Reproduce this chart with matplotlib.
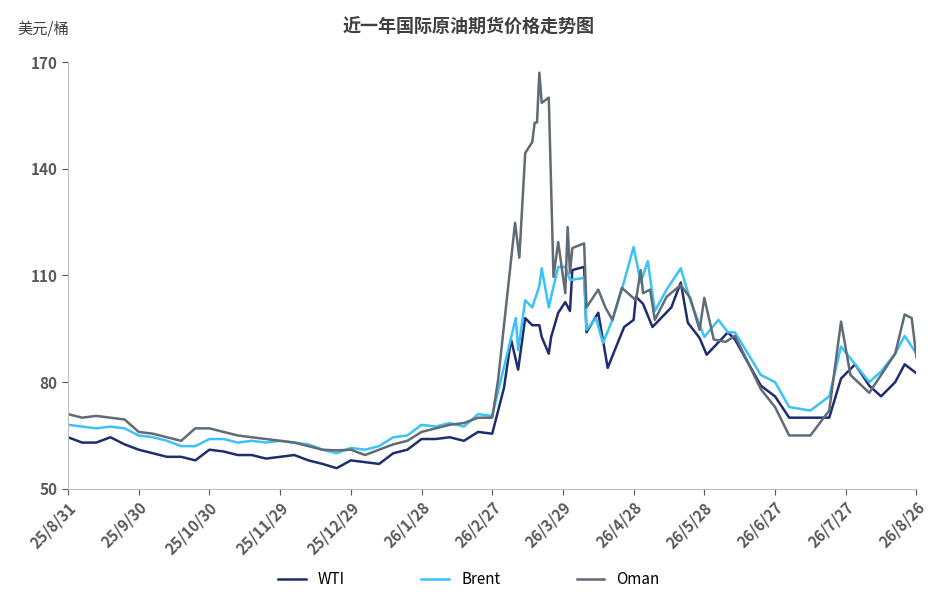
import matplotlib
matplotlib.use("Agg")
import matplotlib.pyplot as plt

plt.rcParams['font.family'] = ['Noto Sans CJK SC', 'DejaVu Sans']

tick_labels = ['25/8/31', '25/9/30', '25/10/30', '25/11/29', '25/12/29', '26/1/28', '26/2/27',
               '26/3/29', '26/4/28', '26/5/28', '26/6/27', '26/7/27', '26/8/26']

pre_days = [0, 6, 12, 18, 24, 30, 36, 42, 48, 54, 60, 66, 72, 78, 84, 90, 96, 102, 108, 114,
            120, 126, 132, 138, 144, 150, 156, 162, 168, 174, 180]
wti_pre = [64.5, 63, 63, 64.5, 62.5, 61, 60, 59, 59, 58, 61, 60.5, 59.5, 59.5, 58.5, 59, 59.5, 58, 57, 55.8,
           58, 57.5, 57, 60, 61, 64, 64, 64.5, 63.5, 66, 65.5]
brent_pre = [68, 67.5, 67, 67.5, 67, 65, 64.5, 63.5, 62, 62, 64, 64, 63, 63.5, 63, 63.5, 63, 62.5, 61, 60,
             61.5, 61, 62, 64.5, 65, 68, 67.5, 68.5, 67.5, 71, 70.5]
oman_pre = [71, 70, 70.5, 70, 69.5, 66, 65.5, 64.5, 63.5, 67, 67, 66, 65, 64.5, 64, 63.5, 63, 62, 61, 60.8,
            61, 59.5, 61, 62.5, 63.5, 66, 67, 68, 68.5, 70, 70]

wti_days = [185, 188, 191, 194, 197, 200, 201, 204, 205, 208, 211, 213, 214, 219, 220, 225, 229, 232, 236,
            240, 241, 244, 248, 256, 260, 263, 268, 271, 280, 283, 294, 300, 306, 315, 323, 328, 334, 340,
            345, 351, 355, 360]
wti_post = [78.4, 92, 83.5, 98, 96, 96, 92.7, 88, 92.7, 99.5, 102.5, 100, 111.5, 112.4, 94, 99.5, 84, 89, 95.5,
            97.5, 104, 102, 95.5, 101, 108, 96.7, 92.4, 87.7, 94, 92, 79, 76, 70, 70, 70, 81, 85, 79,
            76, 80, 85, 82.5]
brent_days = [183, 190, 191, 194, 197, 200, 201, 204, 205, 208, 211, 213, 219, 220, 224, 227, 231, 235, 240,
              243, 246, 249, 254, 260, 264, 270, 276, 280, 283, 294, 300, 306, 315, 323, 328, 334, 340, 345,
              351, 355, 360]
brent_post = [78.7, 98, 89, 103, 101, 107, 112, 101, 104, 112.4, 112.4, 108.7, 109.3, 94.7, 98, 91, 97.5, 106, 118,
              108, 114, 100, 106, 112, 103, 92.7, 97.5, 94, 94, 82, 80, 73, 72, 76, 90, 85, 80, 83,
              88, 93, 88]
oman_days = [182.5, 189.7, 191.5, 194, 197, 198, 199, 200, 201, 204, 206, 208, 211, 212, 213, 214, 219, 220,
             225, 228, 231, 235, 241, 243, 244, 247, 249, 254, 260, 264, 268, 270, 274, 279, 283, 294, 300,
             306, 315, 323, 328, 332, 340, 345, 351, 355, 358, 360]
oman_post = [80.6, 124.8, 115, 144.4, 147.5, 152.9, 153, 167, 158.5, 160, 109.6, 119.4, 105, 123.6, 110.7, 117.7,
             119, 101, 106, 101, 97.5, 106.5, 103, 111.5, 105, 106, 97.5, 104, 107.3, 103.7, 94.7, 103.7, 92,
             91.3, 93, 78, 73, 65, 65, 72, 97, 82, 77, 82, 88, 99, 98, 87]

series = [
    ('WTI', wti_pre, wti_days, wti_post, '#1f2d6e'),
    ('Brent', brent_pre, brent_days, brent_post, '#3cc3f5'),
    ('Oman', oman_pre, oman_days, oman_post, '#5f6b75'),
]

fig = plt.figure(figsize=(9.38, 6.02), dpi=100)
ax = fig.add_axes([0.0725, 0.188, 0.9045, 0.709])
for name, pre, days, post, color in series:
    ax.plot(pre_days + days, pre + post, color=color, lw=1.8, label=name)

ax.set_xlim(0, 360)
ax.set_ylim(50, 170)
ax.set_yticks([50, 80, 110, 140, 170])
ax.set_xticks(range(0, 361, 30))
ax.set_xticklabels(tick_labels, rotation=45, ha='right', rotation_mode='anchor')
ax.tick_params(axis='both', colors='#595959', labelsize=11, length=4)
for lab in ax.get_yticklabels() + ax.get_xticklabels():
    lab.set_fontweight('bold')
for s in ['top', 'right']:
    ax.spines[s].set_visible(False)
for s in ['left', 'bottom']:
    ax.spines[s].set_color('#bfbfbf')

fig.text(0.5, 0.955, '近一年国际原油期货价格走势图', ha='center', va='center', fontsize=13,
         fontweight='bold', color='#404040')
fig.text(0.018, 0.952, '美元/桶', ha='left', va='center', fontsize=11, color='#404040')

fig.legend(loc='lower center', ncol=3, frameon=False, bbox_to_anchor=(0.5, 0.0),
           fontsize=11, handlelength=1.8, columnspacing=5)

fig.savefig('out.png', dpi=100)
